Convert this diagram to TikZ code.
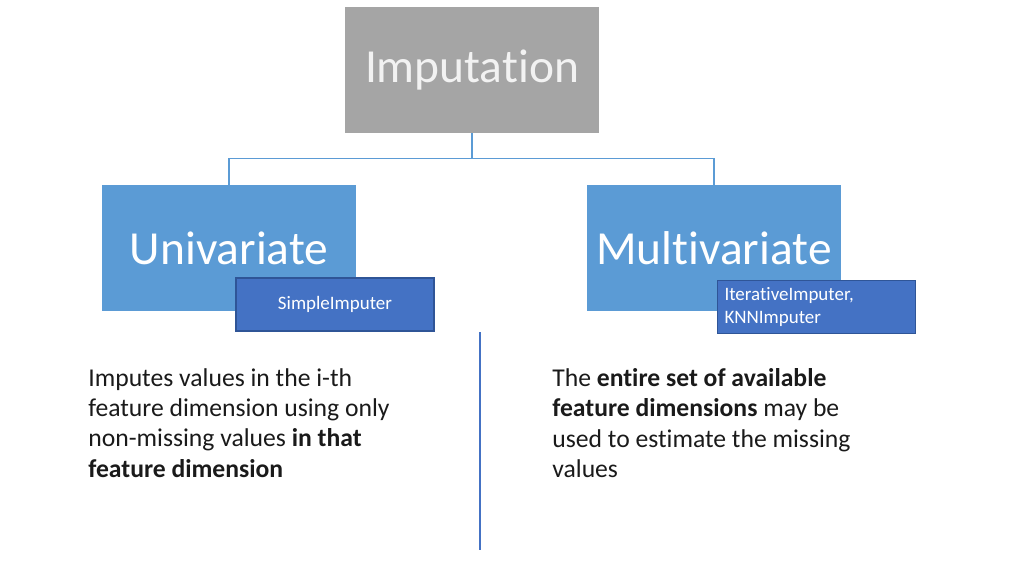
\documentclass[tikz,border=0pt]{standalone}
\usepackage{fontspec}
\setmainfont[Ligatures={NoCommon}]{Carlito}
\usepackage{tikz}
\usetikzlibrary{positioning}

\definecolor{impgray}{HTML}{A5A5A5}
\definecolor{varblue}{HTML}{5B9BD5}
\definecolor{toolblue}{HTML}{4472C4}
\definecolor{tooledge}{HTML}{2F5597}
\definecolor{bodytext}{HTML}{1A1A1A}

\begin{document}
\begin{tikzpicture}[
    x=0.02cm, y=-0.02cm,
    bigbox/.style={rectangle, minimum width=254*0.02cm, minimum height=126*0.02cm,
      inner sep=0pt, text=white, font=\fontsize{27}{32}\selectfont},
    rootbox/.style={bigbox, fill=impgray, text=white!95!black},
    varbox/.style={bigbox, fill=varblue},
    toolbox/.style={rectangle, draw=tooledge, line width=0.6pt, fill=toolblue,
      minimum width=198*0.02cm, minimum height=53*0.02cm, inner sep=0pt,
      text=white, font=\fontsize{10.8}{12.6}\selectfont},
    conn/.style={draw=varblue, line width=0.6pt},
    desc/.style={anchor=north west, align=left, inner sep=0pt, text=bodytext,
      font=\fontsize{14.6}{17.3}\selectfont}
  ]
    \useasboundingbox (0,0) rectangle (1024,574);

    \node[rootbox] (imp) at (472,70) {Imputation};
    \node[varbox] (uni) at (229,248) {Univariate};
    \node[varbox] (multi) at (714,248) {Multivariate};

    \node[toolbox] (simple) at (335,304.5) {SimpleImputer};
    \node[toolbox, align=left, text width=184*0.02cm] (iter) at (816.5,307)
      {IterativeImputer,\\KNNImputer};

    \draw[conn] (imp.south) -- ++(0,25) -| (uni.north);
    \draw[conn] (imp.south) -- ++(0,25) -| (multi.north);

    % divider
    \draw[toolblue, line width=1.4pt] (480,332) -- (480,550);

    \node[desc] (unitext) at (88,368) {Imputes values in the i-th\\
      feature dimension using only\\
      non-missing values \textbf{in that}\\
      \textbf{feature dimension}};
    \node[desc] (multitext) at (552,368) {The \textbf{entire set of available}\\
      \textbf{feature dimensions} may be\\
      used to estimate the missing\\
      values};
\end{tikzpicture}
\end{document}
